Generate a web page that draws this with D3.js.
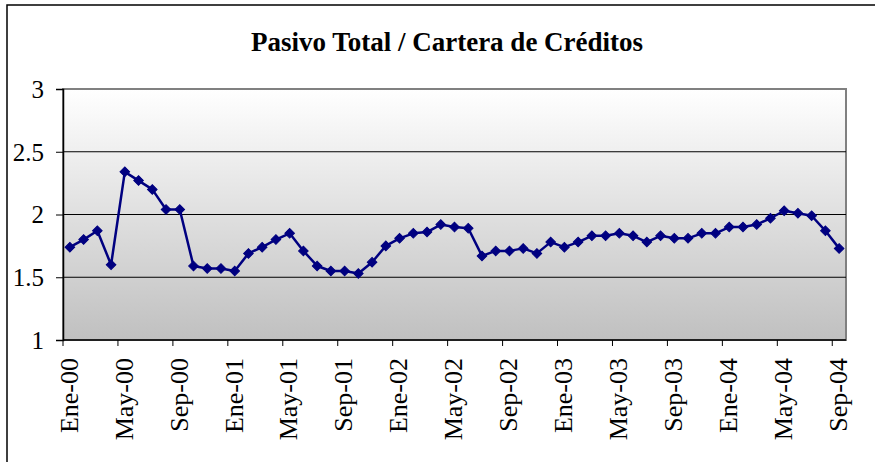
<!DOCTYPE html>
<html>
<head>
<meta charset="utf-8">
<script src="https://cdn.jsdelivr.net/npm/d3@7/dist/d3.min.js"></script>
<style>
  html, body { margin: 0; padding: 0; background: #ffffff; }
  svg { display: block; }
  text { font-family: "Liberation Serif", "Times New Roman", serif; }
</style>
</head>
<body>
<svg id="chart" width="875" height="462"></svg>
<script>
// ---------------- data ----------------
const title = "Pasivo Total / Cartera de Créditos";
const months = ["Ene","Feb","Mar","Abr","May","Jun","Jul","Ago","Sep","Oct","Nov","Dic"];
const years = ["00","01","02","03","04"];
// categories Ene-00 .. Sep-04 (57 months)
const categories = [];
years.forEach(y => months.forEach(m => categories.push(m + "-" + y)));
categories.length = 57;

const values = [
  1.74, 1.80, 1.87, 1.60, 2.34, 2.27, 2.20, 2.04, 2.04, 1.59,
  1.57, 1.57, 1.55, 1.69, 1.74, 1.80, 1.85, 1.71, 1.59, 1.55,
  1.55, 1.53, 1.62, 1.75, 1.81, 1.85, 1.86, 1.92, 1.90, 1.89,
  1.67, 1.71, 1.71, 1.73, 1.69, 1.78, 1.74, 1.78, 1.83, 1.83,
  1.85, 1.83, 1.78, 1.83, 1.81, 1.81, 1.85, 1.85, 1.90, 1.90,
  1.92, 1.97, 2.03, 2.01, 1.99, 1.87, 1.73
];

const tickLabels = ["Ene-00","May-00","Sep-00","Ene-01","May-01","Sep-01","Ene-02","May-02",
  "Sep-02","Ene-03","May-03","Sep-03","Ene-04","May-04","Sep-04"];
const yTicks = [1, 1.5, 2, 2.5, 3];

// ---------------- layout ----------------
const svg = d3.select("#chart");
const plot = { left: 63, right: 846, top: 89, bottom: 340 };

const x = d3.scaleBand().domain(categories).range([plot.left, plot.right]).padding(0);
const y = d3.scaleLinear().domain([1, 3]).range([plot.bottom, plot.top]);

// outer chart border
svg.append("rect")
  .attr("x", 7).attr("y", 5).attr("width", 900).attr("height", 500)
  .attr("fill", "#ffffff").attr("stroke", "#000000").attr("stroke-width", 1.5);

// gradient
const defs = svg.append("defs");
const grad = defs.append("linearGradient").attr("id", "bg")
  .attr("x1", 0).attr("y1", 0).attr("x2", 0).attr("y2", 1);
grad.append("stop").attr("offset", "0%").attr("stop-color", "#ffffff");
grad.append("stop").attr("offset", "100%").attr("stop-color", "#c0c0c0");

svg.append("rect")
  .attr("x", plot.left).attr("y", plot.top)
  .attr("width", plot.right - plot.left).attr("height", plot.bottom - plot.top)
  .attr("fill", "url(#bg)").attr("stroke", "#808080").attr("stroke-width", 2);

// gridlines
svg.append("g").selectAll("line")
  .data(yTicks.filter(v => v > 1 && v < 3))
  .join("line")
  .attr("x1", plot.left).attr("x2", plot.right)
  .attr("y1", d => y(d)).attr("y2", d => y(d))
  .attr("stroke", "#000000").attr("stroke-width", 1);

// y axis
const yAxis = svg.append("g")
  .attr("transform", `translate(${plot.left},0)`)
  .call(d3.axisLeft(y).tickValues(yTicks).tickSize(7).tickPadding(12)
        .tickFormat(d => d3.format("")(d)));
yAxis.select(".domain").attr("stroke", "#000").attr("stroke-width", 1.5);
yAxis.selectAll(".tick line").attr("stroke", "#000").attr("stroke-width", 1);
yAxis.selectAll("text").attr("font-size", 25).attr("fill", "#000")
  .attr("font-family", "Liberation Serif, Times New Roman, serif").attr("dy", "0.33em");

// x axis
const xAxisG = svg.append("g").attr("transform", `translate(0,${plot.bottom})`);
xAxisG.append("line")
  .attr("x1", plot.left).attr("x2", plot.right).attr("y1", 0).attr("y2", 0)
  .attr("stroke", "#000").attr("stroke-width", 1.5);
xAxisG.selectAll("line.tk")
  .data(categories.filter((d, i) => i % 4 === 0))
  .join("line").attr("class", "tk")
  .attr("x1", d => x(d)).attr("x2", d => x(d))
  .attr("y1", 0).attr("y2", 6)
  .attr("stroke", "#000").attr("stroke-width", 1);
xAxisG.selectAll("text")
  .data(tickLabels)
  .join("text")
  .attr("transform", d => `translate(${x(d) + x.bandwidth() / 2},18) rotate(-90)`)
  .attr("text-anchor", "end")
  .attr("dy", "0.3em")
  .attr("font-size", 26)
  .attr("fill", "#000")
  .text(d => d);

// line
const cx = (d, i) => x(categories[i]) + x.bandwidth() / 2;
svg.append("path")
  .datum(values)
  .attr("fill", "none")
  .attr("stroke", "#000080")
  .attr("stroke-width", 2.5)
  .attr("stroke-linejoin", "round")
  .attr("d", d3.line().x(cx).y(d => y(d)));

// markers
const diamond = d3.symbol().type(d3.symbolSquare).size(46);
svg.append("g").selectAll("path")
  .data(values)
  .join("path")
  .attr("d", diamond)
  .attr("transform", (d, i) => `translate(${cx(d, i)},${y(d)}) rotate(45)`)
  .attr("fill", "#000080")
  .attr("stroke", "#000080")
  .attr("stroke-width", 1);

// title
svg.append("text")
  .attr("x", 447).attr("y", 51)
  .attr("text-anchor", "middle")
  .attr("font-size", 27)
  .attr("font-weight", "bold")
  .attr("fill", "#000")
  .text(title);
</script>
</body>
</html>
